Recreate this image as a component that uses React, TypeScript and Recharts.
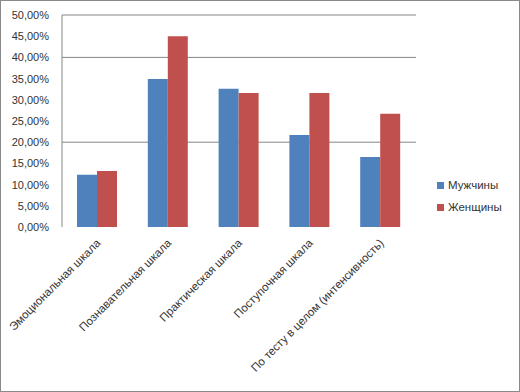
import { BarChart, Bar, XAxis, YAxis, CartesianGrid } from 'recharts';

const categories = [
  'Эмоциональная шкала',
  'Познавательная шкала',
  'Практическая шкала',
  'Поступочная шкала',
  'По тесту в целом (интенсивность)',
];
const men = [0.123, 0.349, 0.326, 0.217, 0.165];
const women = [0.132, 0.45, 0.316, 0.316, 0.267];
const yTicks = [0, 0.05, 0.1, 0.15, 0.2, 0.25, 0.3, 0.35, 0.4, 0.45, 0.5];
const gridValues = [0.2, 0.4, 0.45, 0.5];
const seriesNames = ['Мужчины', 'Женщины'];
const seriesColors = ['#4F81BD', '#C0504D'];

const data = categories.map((name, i) => ({ name, men: men[i], women: women[i] }));

const FONT = '"Liberation Sans", Arial, sans-serif';
const TEXT = '#333';

const fmt = (v: number) => (v * 100).toFixed(2).replace('.', ',') + '%';

function XTick({ x, y, payload }: any) {
  return (
    <text
      x={0}
      y={0}
      transform={`translate(${x + 1},${y + 6}) rotate(-45)`}
      textAnchor="end"
      dy={4}
      fontSize={11.5}
      fontFamily={FONT}
      fill={TEXT}
    >
      {payload.value}
    </text>
  );
}

function LegendBox() {
  return (
    <div
      style={{
        position: 'absolute',
        left: 436,
        top: 173,
        fontFamily: FONT,
        fontSize: 11.5,
        color: TEXT,
      }}
    >
      {seriesNames.map((label, i) => (
        <div key={label} style={{ display: 'flex', alignItems: 'center', height: 22 }}>
          <span style={{ width: 7, height: 7, background: seriesColors[i], marginRight: 4 }} />
          {label}
        </div>
      ))}
    </div>
  );
}

export default function App() {
  return (
    <div
      style={{
        position: 'absolute',
        left: 0,
        top: 0,
        width: 520,
        height: 392,
        boxSizing: 'border-box',
        border: '1px solid #8a8a8a',
        background: '#fff',
      }}
    >
      <BarChart
        width={518}
        height={390}
        data={data}
        margin={{ top: 14, right: 103, bottom: 0, left: 0 }}
        barCategoryGap={15}
        barGap={0}
      >
        <CartesianGrid vertical={false} stroke="#868686" horizontalValues={gridValues} />
        <XAxis
          dataKey="name"
          interval={0}
          height={164}
          axisLine={false}
          tickLine={false}
          tick={<XTick />}
        />
        <YAxis
          width={61}
          domain={[0, 0.5]}
          ticks={yTicks}
          tickFormatter={fmt}
          axisLine={{ stroke: '#868686' }}
          tickLine={false}
          tickMargin={7}
          tick={{ fontSize: 11, fontFamily: FONT, fill: TEXT }}
        />
        <Bar dataKey="men" name={seriesNames[0]} fill={seriesColors[0]} isAnimationActive={false} />
        <Bar dataKey="women" name={seriesNames[1]} fill={seriesColors[1]} isAnimationActive={false} />
      </BarChart>
      <LegendBox />
    </div>
  );
}
